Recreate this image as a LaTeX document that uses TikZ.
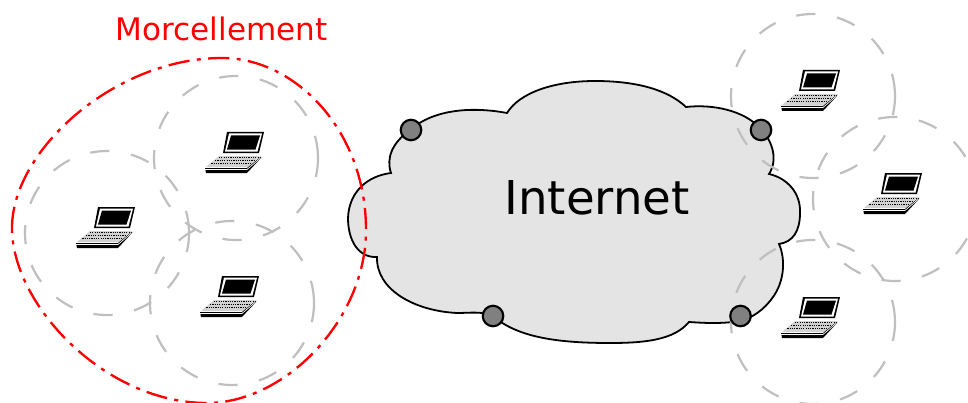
\documentclass[tikz,border=0pt]{standalone}
\usepackage{fontspec}
\setmainfont{DejaVu Sans}
\tikzset{
  x=0.75pt,y=-0.75pt,
  zone/.style={draw=black!25,line width=1.65pt,dash pattern=on 14.4pt off 16.4pt},
  zoneend/.style={draw=black!25,line width=1.65pt},
  router/.style={circle,draw=black,fill=black!50,line width=1.6pt,minimum size=15.4pt,inner sep=0pt},
  laptop/.pic={
    % origin: top right of the screen
    \fill[white] (-38,-1) -- (1.5,-1) -- (-2,24) -- (-16,42) -- (-60,42) -- (-61,36) -- (-46,23) -- cycle;
    \fill[black] (-37,0) -- (0,0) -- (-5,21) -- (-41,21) -- cycle;
    \fill[white] (-35,1.5) -- (-2,1.5) -- (-6.5,19.5) -- (-39,19.5) -- cycle;
    \fill[black] (-33,3.5) -- (-4,3.5) -- (-8.5,17.5) -- (-37,17.5) -- cycle;
    \fill[black!18] (-45,24) -- (-4,24) -- (-16,35) -- (-58,35) -- cycle;
    \foreach \i in {0,1,2}{
      \draw[black,line width=0.65pt,dash pattern=on 0.9pt off 0.8pt]
        (-45-\i*3.8,{25.5+\i*3}) -- (-6-\i*3.8,{25.5+\i*3});
    }
    \fill[black] (-59,36) -- (-17,36) -- (-3,24.5) -- (-3,26) -- (-17,41) -- (-58,41) -- cycle;
    \draw[white,line width=0.5pt] (-59,37.5) -- (-17,37.5) -- (-3.5,26);
  }
}
\begin{document}
\begin{tikzpicture}
\useasboundingbox (0,0) rectangle (968,403);
% cloud
\filldraw[fill=black!10.5,draw=black,line width=1.35pt]
  (507,113) .. controls (520,92) and (555,81) .. (595,81)
  .. controls (637,81) and (668,90) .. (686,107)
  .. controls (712,104) and (744,110) .. (761,129)
  .. controls (773,142) and (778,160) .. (769,174)
  .. controls (787,178) and (801,193) .. (800,213)
  .. controls (800,231) and (793,242) .. (779,244)
  .. controls (786,260) and (784,282) .. (773,297)
  .. controls (764,310) and (752,318) .. (740,321)
  .. controls (722,324) and (704,323) .. (689,322)
  .. controls (674,340) and (645,343) .. (610,343)
  .. controls (560,343) and (518,338) .. (493,316)
  .. controls (482,311) and (470,313) .. (457,313)
  .. controls (415,311) and (376,290) .. (377,257)
  .. controls (358,258) and (348,240) .. (348,218)
  .. controls (349,192) and (367,176) .. (391,173)
  .. controls (386,158) and (392,143) .. (410,130)
  .. controls (435,108) and (475,107) .. (507,113) -- cycle;
\node[font=\fontsize{35}{40}\selectfont,anchor=base] (internet) at (597,214) {Internet};
% zones
\foreach \cx/\cy in {107/233,236/158,232/303,813/96,895/199,813/322}{
  \draw[zone] (\cx,\cy) ++(82,0) arc[start angle=0,end angle=344.5,radius=82];
  \draw[zoneend] (\cx,\cy) ++(344.5:82) arc[start angle=344.5,end angle=360,radius=82];
}
% fragmentation outline
\draw[red,line width=1.75pt,dash pattern=on 16pt off 5.5pt on 3pt off 5.5pt]
  (12,228) .. controls (12,150) and (115,58) .. (222,58)
  .. controls (295,58) and (366,130) .. (366,230)
  .. controls (366,320) and (285,403) .. (207,403)
  .. controls (105,403) and (12,305) .. (12,228) -- cycle;
\node[font=\fontsize{23.3}{26}\selectfont,text=red,anchor=base] (title) at (221.5,41) {Morcellement};
% routers
\node[router] (r1) at (411,130) {};
\node[router] (r2) at (761,130) {};
\node[router] (r3) at (493,316) {};
\node[router] (r4) at (740.5,316) {};
% laptops
\pic at (840,70) {laptop};
\pic at (264,132) {laptop};
\pic at (135,207) {laptop};
\pic at (259,276) {laptop};
\pic at (922,173) {laptop};
\pic at (840,297) {laptop};
\end{tikzpicture}
\end{document}
